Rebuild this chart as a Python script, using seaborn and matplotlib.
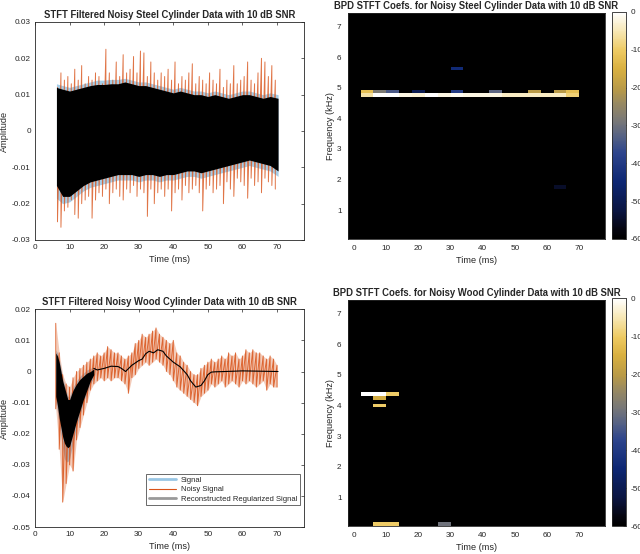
import numpy as np
import matplotlib
matplotlib.use("Agg")
import matplotlib.pyplot as plt
from matplotlib.colors import LinearSegmentedColormap
from matplotlib.lines import Line2D
import seaborn as sns

sns.set_theme(style="white")
plt.rcParams['font.family'] = ['Liberation Sans', 'DejaVu Sans']
plt.rcParams['axes.unicode_minus'] = False

# ---- steel cylinder: noisy signal peaks ----
steel_noisy_t = np.arange(6.5, 70.0, 1.0)
steel_top = [0.012, 0.016, 0.014, 0.015, 0.013, 0.017, 0.014, 0.018, 0.013, 0.015,
             0.014, 0.016, 0.015, 0.013, 0.0225, 0.016, 0.014, 0.019, 0.015, 0.021,
             0.016, 0.017, 0.0205, 0.016, 0.022, 0.0215, 0.015, 0.019, 0.016, 0.014,
             0.016, 0.015, 0.017, 0.014, 0.019, 0.013, 0.015, 0.014, 0.016, 0.0185,
             0.013, 0.015, 0.014, 0.013, 0.016, 0.014, 0.013, 0.017, 0.012, 0.014,
             0.013, 0.018, 0.013, 0.014, 0.015, 0.019, 0.014, 0.013, 0.016, 0.020,
             0.019, 0.015, 0.018, 0.014]
steel_bot = [-0.025, -0.0265, -0.022, -0.021, -0.019, -0.023, -0.024, -0.020, -0.019, -0.018,
             -0.024, -0.019, -0.017, -0.018, -0.016, -0.020, -0.017, -0.016, -0.018, -0.019,
             -0.016, -0.017, -0.015, -0.018, -0.016, -0.017, -0.0235, -0.016, -0.020, -0.017,
             -0.016, -0.018, -0.016, -0.022, -0.017, -0.016, -0.019, -0.015, -0.017, -0.016,
             -0.015, -0.017, -0.022, -0.016, -0.015, -0.017, -0.016, -0.015, -0.020, -0.014,
             -0.016, -0.018, -0.013, -0.014, -0.015, -0.0185, -0.013, -0.015, -0.014, -0.017,
             -0.013, -0.014, -0.015, -0.016]

# steel envelopes of the signal (blue) and reconstruction (black)
steel_env_t = [6.2, 8, 10, 12, 14, 16, 18, 20, 22, 24, 26, 28, 30, 32, 34, 36, 38,
               40, 42, 44, 46, 48, 50, 52, 54, 56, 58, 60, 62, 64, 66, 68, 70.3]
steel_rec_hi = [0.012, 0.0115, 0.011, 0.0115, 0.012, 0.0125, 0.0128, 0.0128, 0.013, 0.013,
                0.0135, 0.013, 0.0125, 0.0125, 0.012, 0.0115, 0.011, 0.0105, 0.011, 0.0105,
                0.010, 0.010, 0.0095, 0.010, 0.0095, 0.009, 0.0095, 0.010, 0.010, 0.0095,
                0.009, 0.0095, 0.009]
steel_rec_lo = [-0.015, -0.018, -0.018, -0.0165, -0.015, -0.014, -0.0135, -0.013, -0.0125, -0.012,
                -0.012, -0.012, -0.0125, -0.012, -0.012, -0.0125, -0.012, -0.012, -0.0115, -0.011,
                -0.011, -0.0115, -0.011, -0.0105, -0.010, -0.0095, -0.009, -0.0085, -0.008, -0.0085,
                -0.009, -0.0095, -0.011]
steel_sig_hi = [0.013, 0.0125, 0.012, 0.0125, 0.013, 0.0135, 0.014, 0.014, 0.0142, 0.0142,
                0.0145, 0.014, 0.0135, 0.0135, 0.013, 0.0125, 0.012, 0.0115, 0.012, 0.0115,
                0.011, 0.011, 0.0105, 0.011, 0.0105, 0.010, 0.0105, 0.011, 0.011, 0.0105,
                0.010, 0.0105, 0.010]
steel_sig_lo = [-0.0185, -0.020, -0.0195, -0.018, -0.0165, -0.0155, -0.015, -0.0145, -0.014, -0.0135,
                -0.0135, -0.0135, -0.014, -0.0135, -0.0135, -0.014, -0.0135, -0.0135, -0.013, -0.0125,
                -0.0125, -0.013, -0.0125, -0.012, -0.0115, -0.011, -0.0105, -0.010, -0.0095, -0.010,
                -0.0105, -0.011, -0.0125]

# ---- wood cylinder ----
wood_noisy_t = np.arange(6.0, 71.0, 1.0)
wood_top = [0.0155, 0.006, -0.001, -0.004, -0.005, -0.002, 0.0, 0.001, 0.002, 0.003,
            0.004, 0.005, 0.006, 0.005, 0.006, 0.008, 0.007, 0.006, 0.006, 0.005,
            0.004, 0.005, 0.006, 0.009, 0.010, 0.012, 0.011, 0.012, 0.013, 0.014,
            0.012, 0.011, 0.010, 0.009, 0.010, 0.006, 0.005, 0.003, 0.002, 0.0,
            -0.001, -0.001, 0.001, 0.002, 0.003, 0.004, 0.003, 0.004, 0.005, 0.004,
            0.006, 0.005, 0.006, 0.004, 0.005, 0.007, 0.006, 0.007, 0.006, 0.006,
            0.005, 0.004, 0.005, 0.004, 0.002]
wood_bot = [-0.012, -0.025, -0.042, -0.036, -0.030, -0.032, -0.022, -0.018, -0.014, -0.010,
            -0.006, -0.004, -0.003, -0.002, -0.003, -0.002, -0.003, -0.002, -0.002, -0.003,
            -0.004, -0.007, -0.002, -0.001, 0.001, 0.002, 0.003, 0.002, 0.003, 0.004,
            0.003, 0.002, 0.0, -0.001, -0.003, -0.005, -0.006, -0.007, -0.008, -0.009,
            -0.010, -0.011, -0.008, -0.007, -0.006, -0.004, -0.005, -0.004, -0.003, -0.005,
            -0.004, -0.003, -0.004, -0.005, -0.003, -0.004, -0.003, -0.004, -0.005, -0.004,
            -0.003, -0.006, -0.004, -0.005, -0.005]

# dense early part of the reconstruction (envelope) and the smooth tail
wood_env_t = [6.0, 6.5, 7.0, 7.5, 8.0, 8.5, 9.0, 9.5, 10, 11, 12, 13, 14, 15, 16, 17]
wood_rec_hi = [0.006, 0.005, 0.003, 0.0, -0.003, -0.005, -0.007, -0.009, -0.009, -0.006,
               -0.004, -0.0025, -0.0015, -0.0005, 0.0, 0.0008]
wood_rec_lo = [-0.008, -0.011, -0.015, -0.018, -0.021, -0.023, -0.024, -0.0245, -0.024, -0.020,
               -0.016, -0.0125, -0.009, -0.006, -0.003, -0.001]
wood_sig_hi = [0.007, 0.006, 0.004, 0.001, -0.002, -0.004, -0.006, -0.008, -0.008, -0.005,
               -0.003, -0.0015, -0.0005, 0.0005, 0.001, 0.0015]
wood_sig_lo = [-0.010, -0.013, -0.017, -0.021, -0.025, -0.028, -0.029, -0.029, -0.028, -0.023,
               -0.018, -0.014, -0.010, -0.007, -0.004, -0.002]
wood_tail_t = [17, 18, 20, 22, 24, 25, 26.2, 28, 30, 31, 32, 33, 34.3, 35.5, 37, 38, 40,
               42, 44, 45, 46.5, 48, 49, 50, 51, 52, 55, 60, 65, 70.3]
wood_tail = [0.001, 0.0005, 0.001, 0.0017, 0.0016, 0.001, 0.0, 0.002, 0.0035, 0.004,
             0.0057, 0.0065, 0.006, 0.007, 0.0065, 0.005, 0.003, 0.0015, -0.001, -0.003,
             -0.005, -0.0045, -0.003, -0.001, -0.0002, -0.0001, 0.0, 0.0002, 0.0001, 0.0]

# ---- BPD STFT coefficient maps (dB) ----
heat_time = np.arange(0, 80, 4)           # bin centres, ms
heat_freq = np.arange(1, 60) * 0.125      # bin centres, kHz
steel_row_a_f = 4.75
steel_row_a = [-6, 0, 0, -2, -3, 0, -2, -1, -2, -2, -2, -4, -4, -4, -4, -4, -9]
steel_row_b_f = 4.875
steel_row_b = [-12, -28, -34, -60, -50, -60, -60, -40, -60, -60, -32, -60, -60, -20, -60, -20, -12]
steel_row_t = np.arange(4, 72, 4)
steel_extra = [(32, 5.625, -44), (64, 1.75, -55)]
wood_cells = [(4, 4.375, 0), (8, 4.375, 0), (12, 4.375, -10), (8, 4.25, -16),
              (8, 4.0, -10), (8, 0.125, -10), (12, 0.125, -10), (28, 0.125, -30)]

BLUE = (0.0, 0.447, 0.741)
ORANGE = (0.85, 0.325, 0.098)
DARK = (0.15, 0.15, 0.15)
TICK_FS, LABEL_FS, TITLE_FS = 5.9, 6.6, 6.85

cmap = LinearSegmentedColormap.from_list("bpd", [
    (0.0, (0.0, 0.0, 0.0)), (0.04, (0.02, 0.02, 0.06)), (0.12, (0.04, 0.08, 0.25)),
    (0.25, (0.05, 0.15, 0.45)), (0.38, (0.18, 0.27, 0.55)), (0.45, (0.33, 0.38, 0.52)),
    (0.52, (0.47, 0.47, 0.47)), (0.6, (0.6, 0.54, 0.38)), (0.66, (0.72, 0.6, 0.28)),
    (0.75, (0.85, 0.69, 0.25)), (0.83, (0.93, 0.79, 0.38)), (0.92, (0.97, 0.91, 0.72)),
    (1.0, (1.0, 1.0, 1.0))])


def heat_grid(cells):
    z = np.full((len(heat_freq), len(heat_time)), -60.0)
    for t, f, v in cells:
        i = int(np.argmin(np.abs(heat_freq - f)))
        j = int(np.argmin(np.abs(heat_time - t)))
        z[i, j] = v
    return z


def style_line_axes(ax, ylim, yticks):
    ax.set_xlim(0, 77.8)
    ax.set_ylim(*ylim)
    ax.set_xticks(range(0, 80, 10))
    ax.set_yticks(yticks)
    ax.set_yticklabels(['0' if abs(v) < 1e-9 else f'{v:.2f}' for v in yticks])
    ax.tick_params(direction='in', length=2.5, width=0.5, colors=DARK, labelsize=TICK_FS,
                   top=True, right=True, pad=3)
    for s in ax.spines.values():
        s.set_color(DARK)
        s.set_linewidth(0.6)
    ax.set_xlabel("Time (ms)", fontsize=LABEL_FS, color=DARK, labelpad=3)
    ax.set_ylabel("Amplitude", fontsize=LABEL_FS, color=DARK)
    ax.yaxis.set_label_coords(-0.097, 0.5)


def strokes(t, hi, lo):
    # vertical stroke from each peak to its trough, in time order
    x = np.repeat(t, 2)
    y = np.column_stack([hi, lo]).ravel()
    return x, y


def draw_heat(ax, cax, z, title):
    ax.set_facecolor('black')
    mesh = ax.pcolormesh(heat_time, heat_freq, z, cmap=cmap, vmin=-60, vmax=0, shading='nearest')
    ax.set_xlim(-2, 78)
    ax.set_ylim(0.0625, 7.4375)
    ax.set_xticks(range(0, 80, 10))
    ax.set_yticks(range(1, 8))
    ax.tick_params(direction='out', length=2.5, width=0.5, colors=DARK, labelsize=TICK_FS, pad=2)
    for s in ax.spines.values():
        s.set_color(DARK)
        s.set_linewidth(0.6)
    ax.set_xlabel("Time (ms)", fontsize=LABEL_FS, color=DARK, labelpad=3)
    ax.set_ylabel("Frequency (kHz)", fontsize=LABEL_FS, color=DARK)
    ax.yaxis.set_label_coords(-0.05, 0.5)
    ax.set_title(title, fontsize=TITLE_FS, fontweight='bold', pad=3)
    cb = plt.colorbar(mesh, cax=cax)
    cb.set_ticks(range(-60, 1, 10))
    cb.ax.tick_params(direction='in', length=2.5, width=0.5, colors=DARK, labelsize=TICK_FS, pad=3)
    cb.outline.set_edgecolor(DARK)
    cb.outline.set_linewidth(0.6)


fig = plt.figure(figsize=(6.4, 5.54), dpi=100)
ax1 = fig.add_axes([0.0547, 0.5668, 0.4203, 0.3935])
ax2 = fig.add_axes([0.5433, 0.5686, 0.4020, 0.4080])
cax2 = fig.add_axes([0.9566, 0.5686, 0.0219, 0.4098])
ax3 = fig.add_axes([0.0547, 0.0487, 0.4203, 0.3930])
ax4 = fig.add_axes([0.5433, 0.0505, 0.4020, 0.4075])
cax4 = fig.add_axes([0.9566, 0.0505, 0.0219, 0.4111])

# steel amplitude panel
ax1.fill_between(steel_env_t, steel_sig_lo, steel_sig_hi, color=BLUE, alpha=0.35, lw=0, zorder=1)
nx, ny = strokes(steel_noisy_t, steel_top, steel_bot)
sns.lineplot(x=nx, y=ny, ax=ax1, color=ORANGE, lw=0.7, alpha=0.8, estimator=None, sort=False)
ax1.fill_between(steel_env_t, steel_rec_lo, steel_rec_hi, color='black', lw=0, zorder=3)
style_line_axes(ax1, (-0.03, 0.03), [-0.03, -0.02, -0.01, 0, 0.01, 0.02, 0.03])
ax1.set_title("STFT Filtered Noisy Steel Cylinder Data with 10 dB SNR",
              fontsize=TITLE_FS, fontweight='bold', pad=3)

# wood amplitude panel
ax3.fill_between(wood_env_t, wood_sig_lo, wood_sig_hi, color=BLUE, alpha=0.35, lw=0, zorder=1)
ax3.fill_between(wood_noisy_t, wood_bot, wood_top, color=ORANGE, alpha=0.3, lw=0, zorder=1)
nx, ny = strokes(wood_noisy_t, wood_top, wood_bot)
sns.lineplot(x=nx, y=ny, ax=ax3, color=ORANGE, lw=0.7, alpha=0.85, estimator=None, sort=False)
ax3.fill_between(wood_env_t, wood_rec_lo, wood_rec_hi, color='black', lw=0, zorder=3)
sns.lineplot(x=wood_tail_t, y=wood_tail, ax=ax3, color='black', lw=0.8, estimator=None, zorder=4)
style_line_axes(ax3, (-0.05, 0.02), [-0.05, -0.04, -0.03, -0.02, -0.01, 0, 0.01, 0.02])
ax3.set_title("STFT Filtered Noisy Wood Cylinder Data with 10 dB SNR",
              fontsize=TITLE_FS, fontweight='bold', pad=3)
handles = [Line2D([], [], color=BLUE, alpha=0.4, lw=2),
           Line2D([], [], color=ORANGE, lw=0.8),
           Line2D([], [], color='black', alpha=0.4, lw=2)]
leg = ax3.legend(handles, ["Signal", "Noisy Signal", "Reconstructed Regularized Signal"],
                 loc='lower right', bbox_to_anchor=(0.985, 0.1), fontsize=5.5, frameon=True,
                 fancybox=False, handlelength=3.6, handletextpad=0.6, borderpad=0.35,
                 labelspacing=0.25, borderaxespad=0)
leg.get_frame().set_edgecolor(DARK)
leg.get_frame().set_linewidth(0.6)
leg.set_zorder(5)

# coefficient maps
steel_cells = [(t, steel_row_a_f, v) for t, v in zip(steel_row_t, steel_row_a)]
steel_cells += [(t, steel_row_b_f, v) for t, v in zip(steel_row_t, steel_row_b)]
steel_cells += steel_extra
draw_heat(ax2, cax2, heat_grid(steel_cells),
          "BPD STFT Coefs. for Noisy Steel Cylinder Data with 10 dB SNR")
draw_heat(ax4, cax4, heat_grid(wood_cells),
          "BPD STFT Coefs. for Noisy Wood Cylinder Data with 10 dB SNR")

fig.savefig("out.png", dpi=100)
